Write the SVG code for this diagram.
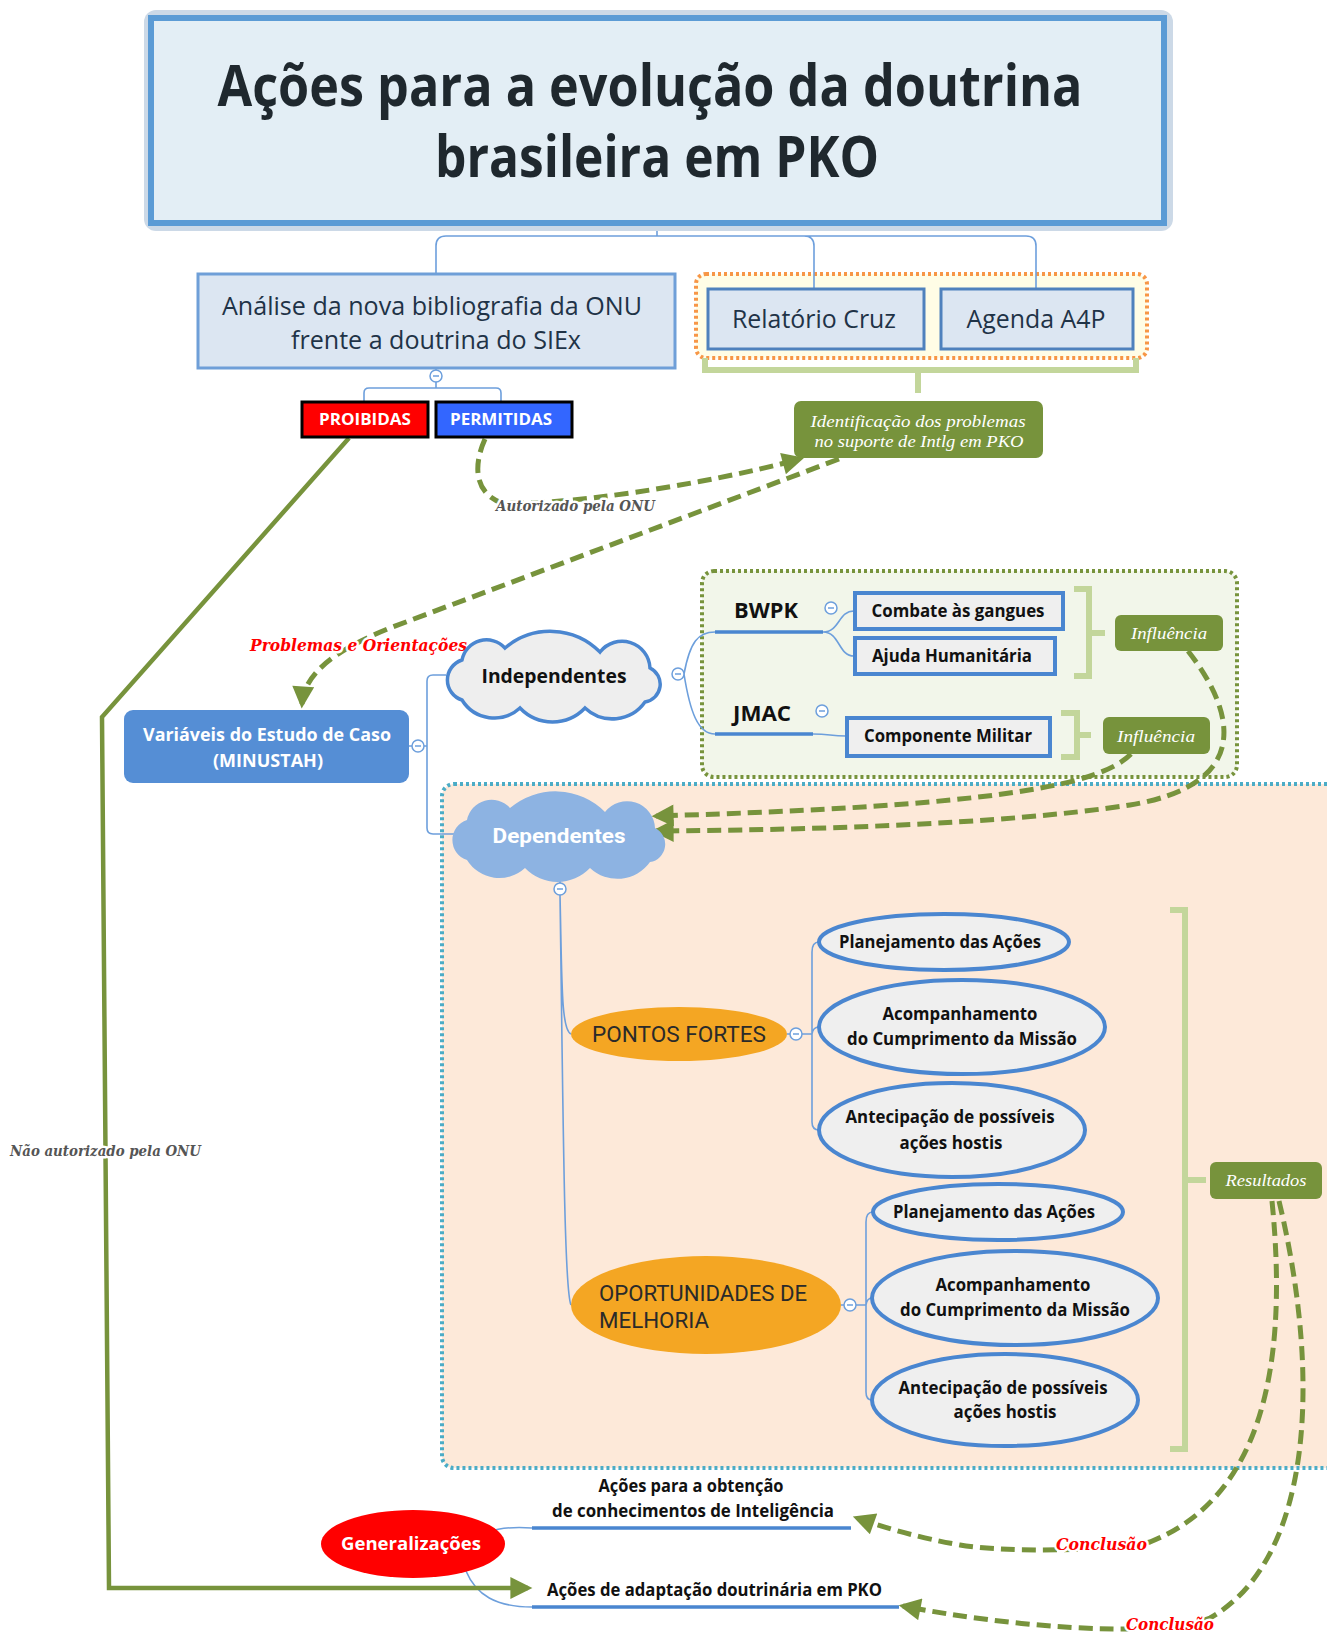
<svg xmlns="http://www.w3.org/2000/svg" width="1327" height="1635" viewBox="0 0 1327 1635">
<style>
.conn{fill:none;stroke:#6d9fdc;stroke-width:1.6}
.ul{fill:none;stroke:#4a86d0;stroke-width:3.5}
.gd{fill:none;stroke:#77933c;stroke-width:5;stroke-dasharray:14 7}
.lg{fill:none;stroke:#c3d69b;stroke-width:6}
.tog circle{fill:#fff;stroke:#6d9fdc;stroke-width:1.5}
.tog path{stroke:#6d9fdc;stroke-width:1.5}
.os{font-family:"Open Sans","Liberation Sans",sans-serif}
.b{font-weight:700}
.ser{font-family:"Liberation Serif","DejaVu Serif",serif;font-style:italic}
.ell{fill:#efefef;stroke:#4a86d0;stroke-width:4}
.lbl{font-family:"DejaVu Serif","Liberation Serif",serif;font-style:italic;font-weight:700;paint-order:stroke;stroke:#fff;stroke-width:5;stroke-linejoin:round}
</style>
<defs>
<marker id="ah" viewBox="0 0 10 10" refX="8" refY="5" markerWidth="24" markerHeight="22" markerUnits="userSpaceOnUse" orient="auto"><path d="M0,0 L10,5 L0,10 z" fill="#77933c"/></marker>
<path id="cloud" d="M462,700 A21,21 0 0 1 462,660 A25,25 0 0 1 505,648 A70,70 0 0 1 600,652 A28,28 0 0 1 650,668 A18,18 0 0 1 645,702 A40,40 0 0 1 585,708 A45,45 0 0 1 520,708 A38,38 0 0 1 462,700 Z"/>
</defs>
<rect width="1327" height="1635" fill="#fff"/>

<!-- regions -->
<g id="regions">
<rect x="442" y="784" width="905" height="684" rx="12" fill="#fde9d9" stroke="#4bacc6" stroke-width="4" stroke-dasharray="3 3"/>
<rect x="702" y="571" width="535" height="206" rx="12" fill="#f2f6ea" stroke="#77933c" stroke-width="4" stroke-dasharray="3 3"/>
<rect x="696" y="274" width="451" height="84" rx="10" fill="#fffde6" stroke="#f79646" stroke-width="4" stroke-dasharray="3 3"/>
</g>

<!-- connectors -->
<g id="connectors">
<path class="conn" d="M657,223 V236 M436,274 V246 Q436,236 446,236 H1026 Q1036,236 1036,246 V289 M814,289 V246 Q814,236 804,236"/>
<path class="conn" d="M436,368 V371 M436,382 V388 M364,401 V393 Q364,388 369,388 H496 Q501,388 501,393 V401"/>
<path class="conn" d="M409,746 H412 M424,746 H427 M446,675 H433 Q427,675 427,681 V828 Q427,834 433,834 H460"/>
<path class="conn" d="M672,674 H684 M684,674 C690,642 698,632 715,632 M684,674 C690,712 698,734 715,734"/>
<path class="ul" d="M715,632 H823 M715,734 H813"/>
<path class="conn" d="M823,632 C840,632 838,611 854,611 M823,632 C840,632 838,656 854,656 M813,734 C830,734 830,736 846,736"/>
<path class="conn" d="M560,878 V883 M560,895 C562,980 561,1030 571,1034 M560,895 C563,1100 564,1290 571,1305"/>
<path class="conn" d="M787,1034 H790 M802,1034 H812 M819,942 Q812,942 812,952 V1122 Q812,1130 819,1130 M812,1034 Q813,1027 819,1027"/>
<path class="conn" d="M841,1305 H844 M856,1305 H866 M873,1212 Q866,1212 866,1222 V1392 Q866,1400 872,1400 M866,1305 Q867,1298 872,1298"/>
<path class="conn" d="M488,1532 Q505,1526 532,1528 M466,1571 C476,1595 496,1607 532,1607"/>
<path class="ul" d="M532,1528 H851 M532,1607 H899"/>

<path class="lg" d="M705,358 V370 H1136 V358 M918,370 V393"/>
<path class="lg" d="M1074,589 H1089 V676 H1074 M1089,633 H1105"/>
<path class="lg" d="M1061,713 H1077 V757 H1061 M1077,735 H1091"/>
<path class="lg" d="M1170,910 H1185 V1449 H1170 M1185,1180 H1206"/>

<path d="M349,438 L102,717 L109,1588 L528,1588" fill="none" stroke="#77933c" stroke-width="4.5" marker-end="url(#ah)"/>
<path class="gd" d="M485,439 C472,468 476,494 502,503 C560,506 700,486 800,459" marker-end="url(#ah)"/>
<path class="gd" d="M839,459 L390,628 C330,652 304,676 302,704" marker-end="url(#ah)"/>
<path class="gd" d="M1188,651 C1238,715 1250,785 1130,805 C1000,825 800,830 656,831" marker-end="url(#ah)"/>
<path class="gd" d="M1131,754 C1100,785 1000,806 656,816" marker-end="url(#ah)"/>
<path class="gd" d="M1272,1201 C1290,1380 1255,1500 1150,1542 C1100,1552 1000,1552 960,1545 C920,1538 885,1528 857,1518" marker-end="url(#ah)"/>
<path class="gd" d="M1279,1201 C1322,1380 1312,1560 1210,1618 C1150,1640 1000,1625 903,1606" marker-end="url(#ah)"/>

<text class="lbl" x="496" y="511" font-size="14" fill="#555" textLength="159" lengthAdjust="spacingAndGlyphs">Autorizado pela ONU</text>
<text class="lbl" x="250" y="651" font-size="17" fill="#ff0000" textLength="217" lengthAdjust="spacingAndGlyphs">Problemas e Orientações</text>
<text class="lbl" x="10" y="1156" font-size="14" fill="#555" textLength="191" lengthAdjust="spacingAndGlyphs">Não autorizado pela ONU</text>
<text class="lbl" x="1056" y="1550" font-size="17" fill="#ff0000" textLength="91" lengthAdjust="spacingAndGlyphs">Conclusão</text>
<text class="lbl" x="1126" y="1630" font-size="17" fill="#ff0000" textLength="88" lengthAdjust="spacingAndGlyphs">Conclusão</text>
</g>

<!-- toggles -->
<g class="tog">
<g id="t1"><circle cx="436" cy="376" r="6"/><path d="M433,376 H439"/></g>
<g id="t2"><circle cx="418" cy="746" r="6"/><path d="M415,746 H421"/></g>
<g id="t3"><circle cx="678" cy="674" r="6"/><path d="M675,674 H681"/></g>
<g id="t4"><circle cx="831" cy="608" r="6"/><path d="M828,608 H834"/></g>
<g id="t5"><circle cx="822" cy="711" r="6"/><path d="M819,711 H825"/></g>
<g id="t6"><circle cx="560" cy="889" r="6"/><path d="M557,889 H563"/></g>
<g id="t7"><circle cx="796" cy="1034" r="6"/><path d="M793,1034 H799"/></g>
<g id="t8"><circle cx="850" cy="1305" r="6"/><path d="M847,1305 H853"/></g>
</g>

<!-- nodes -->
<g id="title">
<rect x="144" y="10" width="1029" height="221" rx="12" fill="#ccd9e7"/>
<rect x="151" y="18" width="1013" height="205" fill="#e3eef5" stroke="#5b9bd5" stroke-width="6"/>
<text class="os b" x="650" y="106" font-size="57" fill="#1f282e" text-anchor="middle" textLength="865" lengthAdjust="spacingAndGlyphs">Ações para a evolução da doutrina</text>
<text class="os b" x="657" y="177" font-size="57" fill="#1f282e" text-anchor="middle" textLength="444" lengthAdjust="spacingAndGlyphs">brasileira em PKO</text>
</g>

<g id="analise">
<rect x="198" y="274" width="477" height="94" fill="#dce6f2" stroke="#6f9fd8" stroke-width="3"/>
<text class="os" x="432" y="315" font-size="26" fill="#1f3347" text-anchor="middle" textLength="420" lengthAdjust="spacingAndGlyphs">Análise da nova bibliografia da ONU</text>
<text class="os" x="436" y="349" font-size="26" fill="#1f3347" text-anchor="middle" textLength="290" lengthAdjust="spacingAndGlyphs">frente a doutrina do SIEx</text>
</g>

<g id="relatorio">
<rect x="708" y="289" width="216" height="60" fill="#dce6f2" stroke="#4f81bd" stroke-width="3"/>
<text class="os" x="814" y="328" font-size="26" fill="#1f3347" text-anchor="middle" textLength="164" lengthAdjust="spacingAndGlyphs">Relatório Cruz</text>
</g>
<g id="agenda">
<rect x="941" y="289" width="192" height="60" fill="#dce6f2" stroke="#4f81bd" stroke-width="3"/>
<text class="os" x="1036" y="328" font-size="26" fill="#1f3347" text-anchor="middle" textLength="139" lengthAdjust="spacingAndGlyphs">Agenda A4P</text>
</g>

<g id="proibidas">
<rect x="302" y="402" width="126" height="35" fill="#ff0000" stroke="#000" stroke-width="3"/>
<text class="os b" x="365" y="425" font-size="16" fill="#fff" text-anchor="middle" textLength="92" lengthAdjust="spacingAndGlyphs">PROIBIDAS</text>
</g>
<g id="permitidas">
<rect x="436" y="402" width="136" height="35" fill="#3366ff" stroke="#000" stroke-width="3"/>
<text class="os b" x="501" y="425" font-size="16" fill="#fff" text-anchor="middle" textLength="102" lengthAdjust="spacingAndGlyphs">PERMITIDAS</text>
</g>

<g id="identificacao">
<rect x="794" y="401" width="249" height="57" rx="7" fill="#77933c"/>
<text class="ser" x="918" y="427" font-size="17" fill="#fff" text-anchor="middle" textLength="215" lengthAdjust="spacingAndGlyphs">Identificação dos problemas</text>
<text class="ser" x="919" y="447" font-size="17" fill="#fff" text-anchor="middle" textLength="209" lengthAdjust="spacingAndGlyphs">no suporte de Intlg em PKO</text>
</g>

<g id="variaveis">
<rect x="124" y="710" width="285" height="73" rx="9" fill="#558ed5"/>
<text class="os b" x="267" y="741" font-size="17" fill="#fff" text-anchor="middle" textLength="248" lengthAdjust="spacingAndGlyphs">Variáveis do Estudo de Caso</text>
<text class="os b" x="268" y="767" font-size="17" fill="#fff" text-anchor="middle" textLength="110" lengthAdjust="spacingAndGlyphs">(MINUSTAH)</text>
</g>

<g id="independentes">
<use href="#cloud" fill="#eeeeee" stroke="#4a86d0" stroke-width="3.5"/>
<text class="os b" x="554" y="683" font-size="20" fill="#111" text-anchor="middle" textLength="145" lengthAdjust="spacingAndGlyphs">Independentes</text>
</g>

<g id="dependentes">
<use href="#cloud" transform="translate(5,160)" fill="#8db3e2"/>
<text x="559" y="843" font-family="Roboto,'Liberation Sans',sans-serif" font-weight="700" font-size="21" fill="#fff" text-anchor="middle" textLength="133" lengthAdjust="spacingAndGlyphs">Dependentes</text>
</g>

<g id="bwpk">
<text class="os b" x="734" y="618" font-size="22" fill="#111" textLength="64" lengthAdjust="spacingAndGlyphs">BWPK</text>
</g>
<g id="jmac">
<text class="os b" x="733" y="721" font-size="22" fill="#111" textLength="58" lengthAdjust="spacingAndGlyphs">JMAC</text>
</g>

<g id="combate">
<rect x="855" y="593" width="208" height="36" fill="#efefef" stroke="#4a86d0" stroke-width="4"/>
<text class="os b" x="958" y="617" font-size="17" fill="#111" text-anchor="middle" textLength="173" lengthAdjust="spacingAndGlyphs">Combate às gangues</text>
</g>
<g id="ajuda">
<rect x="855" y="638" width="200" height="36" fill="#efefef" stroke="#4a86d0" stroke-width="4"/>
<text class="os b" x="952" y="662" font-size="17" fill="#111" text-anchor="middle" textLength="160" lengthAdjust="spacingAndGlyphs">Ajuda Humanitária</text>
</g>
<g id="componente">
<rect x="847" y="718" width="203" height="38" fill="#efefef" stroke="#4a86d0" stroke-width="4"/>
<text class="os b" x="948" y="742" font-size="17" fill="#111" text-anchor="middle" textLength="168" lengthAdjust="spacingAndGlyphs">Componente Militar</text>
</g>

<g id="influencia1">
<rect x="1115" y="615" width="108" height="36" rx="6" fill="#77933c"/>
<text class="ser" x="1169" y="639" font-size="17" fill="#fff" text-anchor="middle" textLength="76" lengthAdjust="spacingAndGlyphs">Influência</text>
</g>
<g id="influencia2">
<rect x="1103" y="717" width="107" height="37" rx="6" fill="#77933c"/>
<text class="ser" x="1156" y="742" font-size="17" fill="#fff" text-anchor="middle" textLength="78" lengthAdjust="spacingAndGlyphs">Influência</text>
</g>

<g id="pontos">
<ellipse cx="679" cy="1034" rx="108" ry="27" fill="#f4a623"/>
<text x="679" y="1042" font-family="Roboto,'Liberation Sans',sans-serif" font-size="22" fill="#2a2a2a" text-anchor="middle" textLength="174" lengthAdjust="spacingAndGlyphs">PONTOS FORTES</text>
</g>
<g id="oportunidades">
<ellipse cx="706" cy="1305" rx="135" ry="49" fill="#f4a623"/>
<text x="599" y="1301" font-family="Roboto,'Liberation Sans',sans-serif" font-size="22" fill="#2a2a2a" textLength="208" lengthAdjust="spacingAndGlyphs">OPORTUNIDADES DE</text>
<text x="599" y="1328" font-family="Roboto,'Liberation Sans',sans-serif" font-size="22" fill="#2a2a2a" textLength="110" lengthAdjust="spacingAndGlyphs">MELHORIA</text>
</g>

<g id="pf-planejamento">
<ellipse class="ell" cx="944" cy="942" rx="125" ry="28"/>
<text class="os b" x="940" y="948" font-size="17" fill="#111" text-anchor="middle" textLength="202" lengthAdjust="spacingAndGlyphs">Planejamento das Ações</text>
</g>
<g id="pf-acompanhamento">
<ellipse class="ell" cx="962" cy="1027" rx="143" ry="47"/>
<text class="os b" x="960" y="1020" font-size="17" fill="#111" text-anchor="middle" textLength="155" lengthAdjust="spacingAndGlyphs">Acompanhamento</text>
<text class="os b" x="962" y="1045" font-size="17" fill="#111" text-anchor="middle" textLength="230" lengthAdjust="spacingAndGlyphs">do Cumprimento da Missão</text>
</g>
<g id="pf-antecipacao">
<ellipse class="ell" cx="952" cy="1130" rx="133" ry="47"/>
<text class="os b" x="950" y="1123" font-size="17" fill="#111" text-anchor="middle" textLength="209" lengthAdjust="spacingAndGlyphs">Antecipação de possíveis</text>
<text class="os b" x="951" y="1149" font-size="17" fill="#111" text-anchor="middle" textLength="103" lengthAdjust="spacingAndGlyphs">ações hostis</text>
</g>

<g id="om-planejamento">
<ellipse class="ell" cx="998" cy="1212" rx="125" ry="28"/>
<text class="os b" x="994" y="1218" font-size="17" fill="#111" text-anchor="middle" textLength="202" lengthAdjust="spacingAndGlyphs">Planejamento das Ações</text>
</g>
<g id="om-acompanhamento">
<ellipse class="ell" cx="1015" cy="1298" rx="143" ry="47"/>
<text class="os b" x="1013" y="1291" font-size="17" fill="#111" text-anchor="middle" textLength="155" lengthAdjust="spacingAndGlyphs">Acompanhamento</text>
<text class="os b" x="1015" y="1316" font-size="17" fill="#111" text-anchor="middle" textLength="230" lengthAdjust="spacingAndGlyphs">do Cumprimento da Missão</text>
</g>
<g id="om-antecipacao">
<ellipse class="ell" cx="1005" cy="1400" rx="133" ry="46"/>
<text class="os b" x="1003" y="1394" font-size="17" fill="#111" text-anchor="middle" textLength="209" lengthAdjust="spacingAndGlyphs">Antecipação de possíveis</text>
<text class="os b" x="1005" y="1418" font-size="17" fill="#111" text-anchor="middle" textLength="103" lengthAdjust="spacingAndGlyphs">ações hostis</text>
</g>

<g id="resultados">
<rect x="1210" y="1162" width="112" height="37" rx="6" fill="#77933c"/>
<text class="ser" x="1266" y="1186" font-size="17" fill="#fff" text-anchor="middle" textLength="81" lengthAdjust="spacingAndGlyphs">Resultados</text>
</g>

<g id="generalizacoes">
<ellipse cx="413" cy="1544" rx="92" ry="34" fill="#ff0000"/>
<text class="os b" x="411" y="1550" font-size="18" fill="#fff" text-anchor="middle" textLength="140" lengthAdjust="spacingAndGlyphs">Generalizações</text>
</g>

<g id="acoes-obtencao">
<text class="os b" x="691" y="1492" font-size="17" fill="#111" text-anchor="middle" textLength="185" lengthAdjust="spacingAndGlyphs">Ações para a obtenção</text>
<text class="os b" x="693" y="1517" font-size="17" fill="#111" text-anchor="middle" textLength="282" lengthAdjust="spacingAndGlyphs">de conhecimentos de Inteligência</text>
</g>
<g id="acoes-adaptacao">
<text class="os b" x="547" y="1596" font-size="17" fill="#111" textLength="335" lengthAdjust="spacingAndGlyphs">Ações de adaptação doutrinária em PKO</text>
</g>
</svg>
